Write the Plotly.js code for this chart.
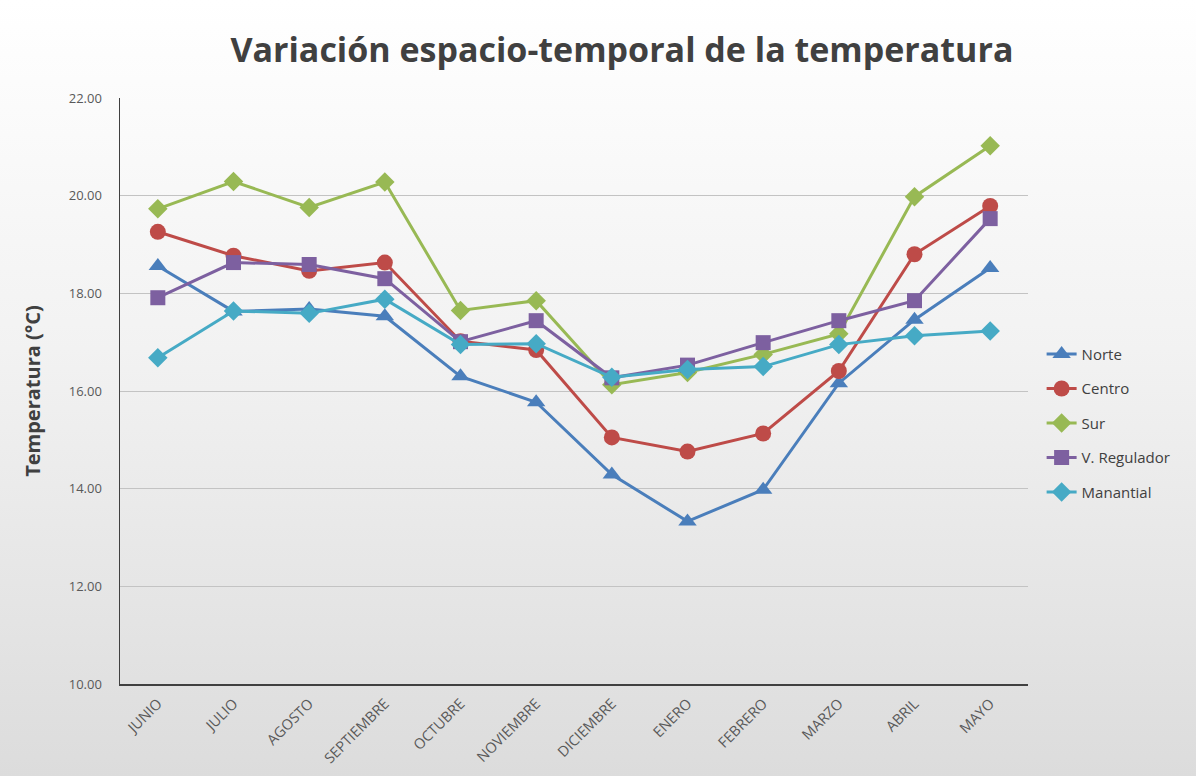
<!DOCTYPE html>
<html>
<head>
<meta charset="utf-8">
<script src="https://cdn.plot.ly/plotly-3.0.1.min.js"></script>
<style>
  html, body { margin: 0; padding: 0; }
  body {
    width: 1196px;
    height: 776px;
    background: linear-gradient(to bottom, #ffffff 0%, #f2f2f2 45%, #dcdcdc 100%);
  }
  #chart { width: 1196px; height: 776px; }
</style>
</head>
<body>
<div id="chart"></div>
<script>
const meses = ['JUNIO', 'JULIO', 'AGOSTO', 'SEPTIEMBRE', 'OCTUBRE', 'NOVIEMBRE',
  'DICIEMBRE', 'ENERO', 'FEBRERO', 'MARZO', 'ABRIL', 'MAYO'];

const norte = [18.56, 17.63, 17.68, 17.53, 16.30, 15.77, 14.29, 13.33, 13.98, 16.16, 17.46, 18.52];
const centro = [19.26, 18.77, 18.46, 18.63, 17.02, 16.84, 15.05, 14.76, 15.13, 16.41, 18.80, 19.79];
const sur = [19.73, 20.29, 19.76, 20.28, 17.65, 17.85, 16.13, 16.38, 16.75, 17.17, 19.98, 21.02];
const regulador = [17.91, 18.63, 18.59, 18.30, 17.01, 17.44, 16.27, 16.53, 16.99, 17.44, 17.85, 19.53];
const manantial = [16.68, 17.64, 17.59, 17.88, 16.95, 16.97, 16.28, 16.44, 16.50, 16.95, 17.13, 17.23];

// una serie por estación, cada una en su propio grupo para separar la leyenda
const serie = (name, y, color, symbol, size) => ({
  x: meses,
  y: y,
  name: name,
  legendgroup: name,
  type: 'scatter',
  mode: 'lines+markers',
  line: { color: color, width: 3 },
  marker: { color: color, symbol: symbol, size: size },
});

const data = [
  serie('Norte', norte, '#4a7ebb', 'triangle-up', 16),
  serie('Centro', centro, '#be4b48', 'circle', 16),
  serie('Sur', sur, '#98b954', 'diamond', 15),
  serie('V. Regulador', regulador, '#7d60a0', 'square', 15),
  serie('Manantial', manantial, '#46aac5', 'diamond', 15),
];

const layout = {
  width: 1196,
  height: 776,
  paper_bgcolor: 'rgba(0,0,0,0)',
  plot_bgcolor: 'rgba(0,0,0,0)',
  font: { family: 'Open Sans, sans-serif', color: '#595959' },
  title: {
    text: '<b>Variación espacio-temporal de la temperatura</b>',
    font: { size: 34, color: '#404040', family: 'Open Sans, sans-serif' },
    x: 0.52,
    xanchor: 'center',
    y: 0.935,
    yanchor: 'middle',
  },
  margin: { l: 120, r: 168, t: 98, b: 92 },
  xaxis: {
    type: 'category',
    tickangle: -45,
    tickfont: { size: 14.5, color: '#595959' },
    ticklabelstandoff: 4,
    showline: true,
    linecolor: '#404040',
    linewidth: 1.5,
    showgrid: false,
    ticks: '',
    range: [-0.5, 11.5],
  },
  yaxis: {
    range: [10, 22],
    dtick: 2,
    tickformat: '.2f',
    tickfont: { size: 13, color: '#595959' },
    ticklabelstandoff: 14,
    showline: true,
    linecolor: '#404040',
    linewidth: 1.5,
    gridcolor: '#c3c3c3',
    gridwidth: 1,
    zeroline: false,
    ticks: '',
    title: {
      text: '<b>Temperatura (°C)</b>',
      font: { size: 20, color: '#404040' },
      standoff: 22,
    },
  },
  legend: {
    x: 1.015,
    xanchor: 'left',
    y: 0.445,
    yanchor: 'middle',
    font: { size: 15, color: '#404040' },
    traceorder: 'grouped',
    tracegroupgap: 12,
    itemwidth: 30,
    bgcolor: 'rgba(0,0,0,0)',
  },
  showlegend: true,
};

Plotly.newPlot('chart', data, layout, { displayModeBar: false, staticPlot: true });
</script>
</body>
</html>
